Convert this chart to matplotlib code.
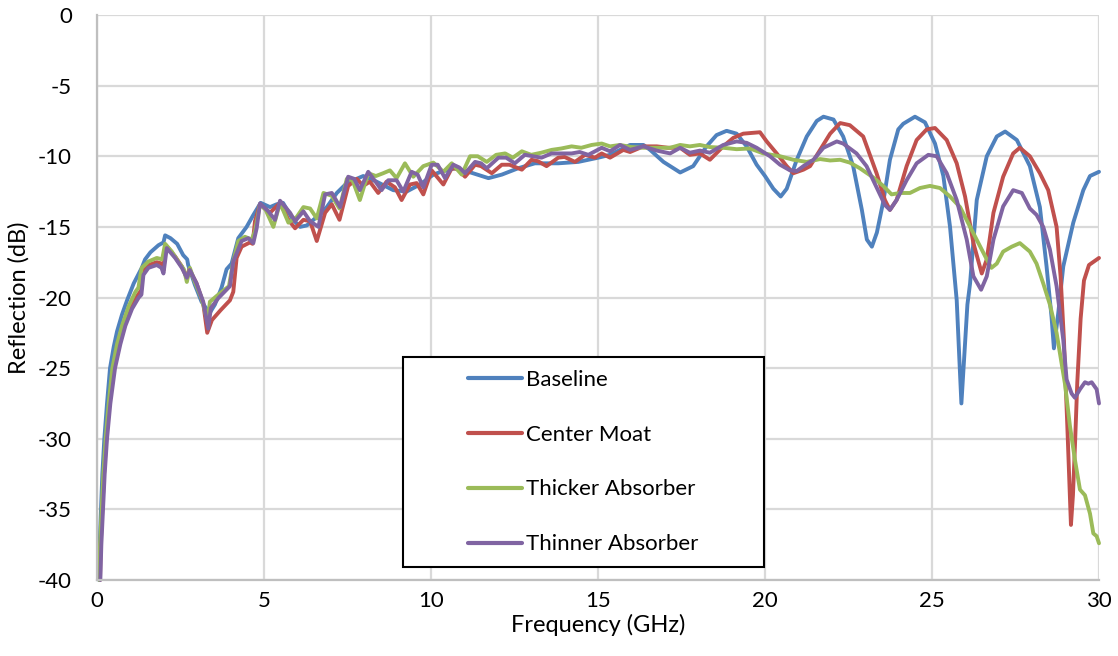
import matplotlib
matplotlib.use("Agg")
import matplotlib.pyplot as plt
from matplotlib.patches import Rectangle

plt.rcParams["font.family"] = ["Lato", "DejaVu Sans"]
plt.rcParams["axes.unicode_minus"] = False

# ---- data: frequency (GHz) and reflection (dB) per configuration ----
baseline_f = [0.06, 0.08, 0.12, 0.16, 0.22, 0.30, 0.39, 0.50, 0.60, 0.75, 0.90, 1.10, 1.34, 1.44,
              1.60, 1.84, 1.99, 2.04, 2.20, 2.40, 2.58, 2.70, 2.73, 2.93, 3.13, 3.28, 3.33, 3.40,
              3.53, 3.73, 3.88, 4.03, 4.23, 4.48, 4.67, 4.90, 5.18, 5.38, 5.57, 5.87, 6.08, 6.28,
              6.58, 6.88, 7.18, 7.48, 7.97, 8.37, 8.87, 9.27, 9.67, 10.07, 10.30, 10.72, 11.12,
              11.72, 12.12, 12.61, 13.11, 13.81, 14.41, 15.01, 15.36, 15.96, 16.36, 16.56, 16.96,
              17.46, 17.85, 18.25, 18.55, 18.85, 19.15, 19.45, 19.75, 20.00, 20.25, 20.47, 20.65,
              20.95, 21.25, 21.55, 21.75, 22.05, 22.34, 22.64, 22.90, 23.05, 23.20, 23.35, 23.55,
              23.74, 23.99, 24.14, 24.49, 24.79, 25.09, 25.34, 25.54, 25.74, 25.82, 25.88, 25.96,
              26.06, 26.14, 26.34, 26.64, 26.94, 27.19, 27.54, 27.93, 28.23, 28.43, 28.58, 28.65,
              28.78, 28.93, 29.23, 29.53, 29.73, 30.00]
baseline_db = [-40, -37.5, -35, -32.5, -30, -27.5, -25, -23.5, -22.4, -21.2, -20.2, -19.0, -17.9, -17.3,
               -16.8, -16.3, -16.1, -15.6, -15.8, -16.2, -17.0, -17.3, -17.7, -19.1, -20.3, -20.8, -21.3, -21.0,
               -20.5, -19.3, -18.0, -17.6, -15.8, -15.0, -14.2, -13.3, -13.6, -13.4, -13.3, -14.5, -15.0, -14.9,
               -14.3, -13.6, -12.6, -11.9, -11.4, -11.8, -12.4, -12.5, -12.0, -11.3, -11.1, -10.85, -11.1,
               -11.55, -11.3, -10.85, -10.5, -10.5, -10.4, -10.1, -9.9, -9.2, -9.2, -9.55, -10.4,
               -11.15, -10.7, -9.3, -8.5, -8.2, -8.4, -9.3, -10.6, -11.4, -12.3, -12.85, -12.3,
               -10.25, -8.6, -7.5, -7.2, -7.4, -8.6, -10.7, -13.8, -15.9, -16.4, -15.4, -13.1,
               -10.25, -8.1, -7.7, -7.2, -7.6, -9.1, -11.4, -15.0, -20.2, -24.4, -27.5, -24.4,
               -20.5, -19.0, -13.1, -10.0, -8.6, -8.25, -8.85, -10.7, -13.6, -17.8, -21.4, -23.6,
               -21.1, -17.8, -14.7, -12.4, -11.4, -11.1]

moat_f = [0.09, 0.11, 0.16, 0.21, 0.28, 0.37, 0.50, 0.65, 0.80, 1.00, 1.20, 1.32, 1.36, 1.54, 1.79,
          1.95, 1.99, 2.06, 2.34, 2.54, 2.69, 2.76, 2.98, 3.18, 3.30, 3.44, 3.70, 3.98, 4.08, 4.18,
          4.33, 4.58, 4.66, 4.73, 4.88, 5.18, 5.48, 5.73, 5.93, 6.18, 6.38, 6.58, 6.83, 7.03, 7.26,
          7.52, 7.78, 7.97, 8.17, 8.42, 8.67, 8.92, 9.12, 9.37, 9.57, 9.77, 10.02, 10.37, 10.62,
          10.80, 11.02, 11.32, 11.50, 11.82, 12.12, 12.35, 12.72, 13.01, 13.20, 13.46, 13.81, 14.00,
          14.31, 14.61, 14.91, 15.11, 15.36, 15.76, 15.96, 16.36, 16.76, 17.10, 17.46, 17.75, 18.05,
          18.35, 18.75, 19.05, 19.35, 19.85, 20.05, 20.35, 20.65, 20.85, 21.15, 21.35, 21.65, 21.95,
          22.25, 22.54, 22.94, 23.34, 23.59, 23.74, 23.94, 24.24, 24.54, 24.84, 25.09, 25.44, 25.74,
          25.99, 26.24, 26.49, 26.64, 26.84, 27.13, 27.43, 27.63, 27.93, 28.23, 28.48, 28.73, 28.85,
          28.95, 29.05, 29.16, 29.22, 29.28, 29.35, 29.45, 29.55, 29.70, 30.00]
moat_db = [-40, -37.5, -35, -32.5, -30, -27.5, -25, -23.3, -22.0, -20.8, -19.9, -19.5, -18.2, -17.7, -17.5,
           -17.6, -18.1, -16.3, -17.1, -17.8, -18.6, -18.0, -19.0, -20.4, -22.5, -21.6, -20.9, -20.2, -19.6, -17.2,
           -16.4, -16.1, -16.2, -14.6, -13.4, -14.0, -13.3, -14.5, -15.1, -14.5, -14.6, -16.0, -14.0, -13.4, -14.5,
           -12.1, -11.6, -12.1, -11.8, -12.6, -11.8, -12.2, -13.1, -12.0, -11.9, -12.7, -11.0, -12.0, -10.85,
           -10.9, -11.45, -10.6, -10.7, -11.2, -10.6, -10.6, -10.95, -10.25, -10.35, -10.7, -10.1, -10.05,
           -10.4, -9.9, -10.1, -9.8, -10.1, -9.55, -9.7, -9.3, -9.3, -9.4, -9.4, -9.9, -9.8,
           -10.25, -9.3, -8.7, -8.4, -8.3, -8.95, -9.8, -10.7, -11.2, -10.95, -10.7, -9.55, -8.4,
           -7.65, -7.8, -8.6, -11.2, -13.1, -13.8, -13.1, -10.7, -8.85, -8.1, -8.0, -8.85, -10.5,
           -12.85, -16.15, -18.3, -17.3, -14.0, -11.45, -9.8, -9.4, -10.0, -11.2, -12.4, -15.0, -18.5,
           -23.0, -29.0, -36.1, -34.0, -30.5, -26.0, -21.5, -18.8, -17.7, -17.2]

thick_f = [0.07, 0.09, 0.14, 0.19, 0.26, 0.35, 0.46, 0.60, 0.75, 0.95, 1.15, 1.24, 1.30, 1.34, 1.54,
           1.79, 1.95, 2.04, 2.24, 2.43, 2.60, 2.69, 2.78, 2.93, 3.13, 3.31, 3.38, 3.63, 3.95, 4.08,
           4.23, 4.43, 4.63, 4.73, 4.88, 5.05, 5.28, 5.48, 5.73, 5.98, 6.18, 6.38, 6.58, 6.78, 7.03,
           7.26, 7.48, 7.65, 7.87, 8.12, 8.35, 8.57, 8.77, 8.97, 9.22, 9.47, 9.77, 10.07, 10.37, 10.62,
           10.92, 11.17, 11.40, 11.67, 11.95, 12.22, 12.45, 12.72, 13.00, 13.30, 13.61, 13.90, 14.21,
           14.50, 14.81, 15.11, 15.36, 15.66, 16.00, 16.36, 16.76, 17.16, 17.46, 17.75, 18.05, 18.35,
           18.75, 19.15, 19.55, 19.95, 20.45, 20.85, 21.25, 21.65, 21.95, 22.25, 22.54, 22.84, 23.24,
           23.54, 23.79, 24.04, 24.34, 24.64, 24.94, 25.24, 25.54, 25.84, 26.14, 26.39, 26.64, 26.78,
           26.94, 27.13, 27.39, 27.63, 27.93, 28.13, 28.33, 28.53, 28.73, 28.98, 29.13, 29.28, 29.43,
           29.58, 29.73, 29.83, 29.93, 30.00]
thick_db = [-40, -37.5, -35, -32.5, -30, -27.5, -25, -23.3, -22.0, -20.6, -19.6, -19.3, -18.4, -17.9, -17.45,
            -17.2, -17.3, -16.2, -16.75, -17.45, -18.0, -18.9, -17.9, -18.9, -20.05, -21.7, -20.3, -19.8, -19.2, -17.45,
            -16.0, -15.7, -15.9, -15.3, -13.4, -13.8, -15.0, -13.3, -14.7, -14.3, -13.6, -13.7, -14.4, -12.6, -12.8,
            -13.7, -11.6, -11.7, -13.1, -11.2, -11.4, -11.2, -11.0, -11.55, -10.5, -11.45, -10.7, -10.45, -11.1, -10.5,
            -11.3, -10.0, -10.0, -10.4, -9.9, -9.8, -10.1, -9.65, -9.9, -9.75, -9.55, -9.45, -9.3,
            -9.4, -9.2, -9.1, -9.3, -9.2, -9.35, -9.4, -9.4, -9.4, -9.2, -9.3, -9.2, -9.35,
            -9.4, -9.5, -9.45, -9.8, -10.0, -10.25, -10.4, -10.2, -10.3, -10.25, -10.45, -10.85, -11.5,
            -12.1, -12.7, -12.6, -12.6, -12.25, -12.1, -12.25, -12.85, -13.6, -15.0, -16.15, -17.3, -17.9,
            -17.6, -16.75, -16.4, -16.15, -16.75, -17.6, -19.0, -20.5, -22.5, -26.1, -29.1, -31.5, -33.6,
            -34.0, -35.3, -36.7, -36.9, -37.4]

thin_f = [0.10, 0.13, 0.18, 0.23, 0.30, 0.40, 0.54, 0.70, 0.85, 1.05, 1.25, 1.33, 1.39, 1.54, 1.79,
          1.93, 1.99, 2.09, 2.34, 2.54, 2.69, 2.78, 2.98, 3.18, 3.33, 3.41, 3.63, 3.98, 4.08, 4.33,
          4.53, 4.68, 4.78, 4.88, 5.13, 5.33, 5.48, 5.78, 5.93, 6.18, 6.38, 6.63, 6.83, 7.03, 7.28,
          7.52, 7.70, 7.87, 8.12, 8.37, 8.52, 8.72, 8.97, 9.17, 9.42, 9.60, 9.77, 10.02, 10.20, 10.42,
          10.67, 10.85, 11.02, 11.32, 11.50, 11.67, 12.02, 12.25, 12.51, 12.81, 13.05, 13.31, 13.61,
          13.90, 14.21, 14.45, 14.71, 15.11, 15.36, 15.66, 15.96, 16.36, 16.76, 17.16, 17.46, 17.75,
          18.05, 18.35, 18.75, 19.15, 19.45, 19.75, 20.15, 20.45, 20.75, 20.95, 21.15, 21.45, 21.75,
          22.15, 22.34, 22.74, 23.04, 23.35, 23.59, 23.74, 23.94, 24.24, 24.54, 24.89, 25.14, 25.44,
          25.74, 26.04, 26.24, 26.47, 26.64, 26.84, 27.13, 27.43, 27.69, 27.93, 28.13, 28.33, 28.53,
          28.73, 28.93, 29.03, 29.18, 29.28, 29.43, 29.58, 29.68, 29.78, 29.93, 30.00]
thin_db = [-40, -37.5, -35, -32.5, -30, -27.5, -25, -23.3, -22.0, -20.8, -20.0, -19.8, -18.4, -17.9, -17.7,
           -17.9, -18.3, -16.5, -17.2, -17.9, -18.6, -18.05, -19.0, -20.3, -22.2, -20.75, -20.05, -19.2, -17.45, -16.0,
           -15.8, -16.15, -15.1, -13.35, -13.9, -14.5, -13.15, -14.0, -14.6, -13.9, -14.6, -15.0, -12.7, -12.6, -13.6,
           -11.45, -11.6, -12.4, -11.1, -11.9, -12.4, -11.7, -11.7, -12.5, -11.1, -11.3, -12.2, -10.6, -10.6, -11.55,
           -10.6, -10.8, -11.2, -10.4, -10.5, -10.85, -10.1, -10.1, -10.5, -9.9, -10.0, -10.1, -9.8,
           -9.8, -9.8, -9.7, -9.9, -9.4, -9.65, -9.2, -9.55, -9.3, -9.6, -9.8, -9.4, -9.75,
           -9.6, -9.75, -9.2, -8.95, -9.05, -9.4, -10.0, -10.6, -11.0, -11.05, -10.7, -10.25, -9.4,
           -8.95, -9.1, -9.8, -10.7, -12.25, -13.45, -13.8, -13.1, -11.7, -10.5, -9.9, -10.0, -11.2,
           -13.1, -15.9, -18.5, -19.45, -18.5, -15.9, -13.55, -12.4, -12.6, -13.7, -14.15, -15.0, -16.6,
           -19.2, -23.0, -25.8, -26.8, -27.1, -26.5, -26.0, -26.1, -26.0, -26.5, -27.5]

series_names = ["Baseline", "Center Moat", "Thicker Absorber", "Thinner Absorber"]
series_colors = ["#4F81BD", "#C0504D", "#9BBB59", "#8064A2"]

x_ticks = [0, 5, 10, 15, 20, 25, 30]
y_ticks = [0, -5, -10, -15, -20, -25, -30, -35, -40]

W, H = 1118, 656
fig = plt.figure(figsize=(W / 100, H / 100), dpi=100)
ax = fig.add_axes([97 / W, 1 - 580 / H, (1099 - 97) / W, (580 - 15) / H])

ax.set_xlim(0, 30)
ax.set_ylim(-40, 0)
ax.set_xticks(x_ticks)
ax.set_yticks(y_ticks)
ax.set_yticklabels([str(v) for v in y_ticks])
ax.grid(True, color="#D9D9D9", linewidth=1.6)
ax.set_axisbelow(True)
for side in ["top", "right"]:
    ax.spines[side].set_visible(False)
for side in ["left", "bottom"]:
    ax.spines[side].set_color("#BFBFBF")
    ax.spines[side].set_linewidth(1.6)
ax.tick_params(length=0, labelsize=16, colors="black")
ax.tick_params(axis="y", pad=18)
ax.tick_params(axis="x", pad=8)

data = [(baseline_f, baseline_db), (moat_f, moat_db), (thick_f, thick_db), (thin_f, thin_db)]
handles = []
for (fx, fy), name, col in zip(data, series_names, series_colors):
    h, = ax.plot(fx, fy, color=col, linewidth=2.8, label=name,
                 solid_joinstyle="round", solid_capstyle="round", clip_on=False)
    handles.append(h)

ax.set_xlabel("Frequency (GHz)", fontsize=17, labelpad=2)
ax.set_ylabel("Reflection (dB)", fontsize=17, labelpad=6)

# legend box with a fixed frame
bx0, by0, bx1, by1 = 403, 357, 764, 567
fig.patches.append(Rectangle((bx0 / W, 1 - by1 / H), (bx1 - bx0) / W, (by1 - by0) / H,
                             transform=fig.transFigure, facecolor="white",
                             edgecolor="black", linewidth=1.5, zorder=5))
leg = fig.legend(handles=handles, loc="center",
                 bbox_to_anchor=((bx0 + bx1) / 2 / W, 1 - (by0 + by1) / 2 / H),
                 frameon=False, fontsize=16, handlelength=2.4, handletextpad=0.22,
                 labelspacing=1.57)
leg.set_zorder(6)
for lh in leg.get_lines():
    lh.set_linewidth(3.0)

fig.savefig("out.png", dpi=100)
